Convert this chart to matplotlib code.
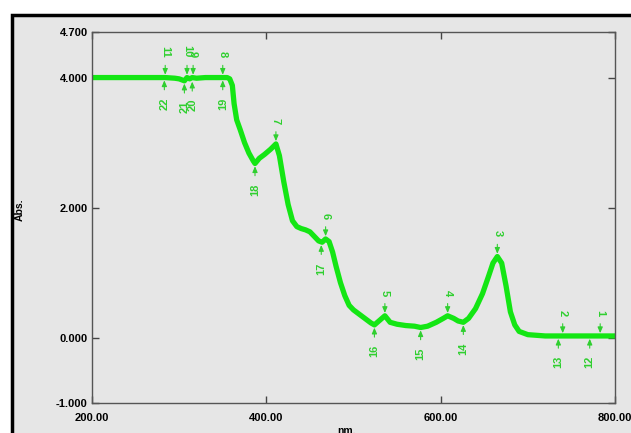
import matplotlib
matplotlib.use("Agg")
import matplotlib.pyplot as plt
from matplotlib.patches import Rectangle

# spectrum
wavelength = [200, 280, 284, 295, 300, 306, 309, 312, 315, 320, 330, 340, 350, 355, 358,
              361, 363, 366, 370, 375, 380, 385, 387, 392, 398, 405, 411, 415, 420, 425,
              430, 435, 440, 445, 450, 455, 460, 464, 468, 472, 476, 480, 485, 490, 495,
              500, 505, 510, 515, 520, 524, 530, 536, 542, 550, 560, 570, 577, 585, 595,
              603, 608, 615, 620, 626, 632, 640, 648, 655, 660, 665, 670, 675, 680, 685,
              690, 700, 720, 740, 760, 800]
absorbance = [4.00, 4.00, 4.00, 3.99, 3.98, 3.95, 4.00, 3.98, 4.00, 3.99, 4.00, 4.00, 4.00, 4.00, 3.98,
              3.88, 3.60, 3.35, 3.20, 3.00, 2.84, 2.72, 2.68, 2.76, 2.82, 2.90, 2.98, 2.80, 2.40, 2.05,
              1.80, 1.71, 1.68, 1.66, 1.63, 1.56, 1.49, 1.47, 1.52, 1.48, 1.32, 1.10, 0.85, 0.65, 0.50,
              0.43, 0.38, 0.33, 0.28, 0.23, 0.20, 0.27, 0.34, 0.24, 0.21, 0.19, 0.18, 0.16, 0.18, 0.24,
              0.30, 0.34, 0.30, 0.26, 0.24, 0.30, 0.45, 0.68, 0.95, 1.15, 1.25, 1.15, 0.80, 0.40, 0.20,
              0.10, 0.05, 0.03, 0.03, 0.03, 0.03]

# picked peaks and valleys
peak_labels = ["1", "2", "3", "4", "5", "6", "7", "8", "9", "10", "11"]
peak_nm = [783, 740, 665, 608, 536, 468, 411, 350, 316, 309, 284]
peak_abs = [0.03, 0.03, 1.25, 0.34, 0.34, 1.52, 2.98, 4.00, 4.00, 4.00, 4.00]

valley_labels = ["12", "13", "14", "15", "16", "17", "18", "19", "20", "21", "22"]
valley_nm = [771, 735, 626, 577, 524, 463, 387, 350, 315, 306, 283]
valley_abs = [0.03, 0.03, 0.24, 0.16, 0.20, 1.47, 2.68, 4.00, 3.98, 3.95, 4.00]

x_ticks = [200, 400, 600, 800]
x_ticklabels = ["200.00", "400.00", "600.00", "800.00"]
y_ticks = [-1.0, 0.0, 2.0, 4.0, 4.7]
y_ticklabels = ["-1.000", "0.000", "2.000", "4.000", "4.700"]

bg = "#e6e6e6"
green = "#14e614"
label_green = "#2fcf2f"
plt.rcParams["font.family"] = ["Liberation Sans", "DejaVu Sans"]

fig = plt.figure(figsize=(6.31, 4.33), dpi=100)
fig.patch.set_facecolor("white")
# grey panel with black border on left/top
fig.patches.append(Rectangle((12 / 631, -0.1), 1.2, 1.1 - 15 / 433, transform=fig.transFigure,
                             facecolor=bg, edgecolor="black", lw=2.5, zorder=-10))

ax = fig.add_axes([92 / 631, 30 / 433, (615 - 92) / 631, (403 - 32) / 433])
ax.set_zorder(1)
ax.set_facecolor(bg)
ax.plot(wavelength, absorbance, color=green, lw=3.8, solid_capstyle="round", solid_joinstyle="round")

ax.set_xlim(200, 800)
ax.set_ylim(-1.0, 4.7)
ax.set_xticks(x_ticks)
ax.set_xticklabels(x_ticklabels)
ax.set_yticks(y_ticks)
ax.set_yticklabels(y_ticklabels)
ax.tick_params(direction="in", length=5, width=1, color="#444444", labelsize=8, top=True, right=True)
ax.tick_params(axis="x", pad=7)
ax.tick_params(axis="y", pad=3)
for t in ax.get_xticklabels() + ax.get_yticklabels():
    t.set_fontweight("bold")
for s in ax.spines.values():
    s.set_color("#555555")
    s.set_linewidth(1.0)

arrow = dict(arrowstyle="-|>,head_length=0.35,head_width=0.15", color=label_green, lw=0.8)
for lab, x, y in zip(peak_labels, peak_nm, peak_abs):
    ax.annotate("", xy=(x, y), xycoords="data", xytext=(0, 15), textcoords="offset pixels",
                arrowprops=arrow)
    ax.annotate(lab, xy=(x, y), xytext=(0, 20), textcoords="offset pixels", rotation=-90,
                ha="center", va="bottom", color=label_green, fontsize=8, fontweight="bold")
for lab, x, y in zip(valley_labels, valley_nm, valley_abs):
    ax.annotate("", xy=(x, y), xycoords="data", xytext=(0, -15), textcoords="offset pixels",
                arrowprops=arrow)
    ax.annotate(lab, xy=(x, y), xytext=(0, -20), textcoords="offset pixels", rotation=90,
                ha="center", va="top", color=label_green, fontsize=8, fontweight="bold")

fig.text(20 / 631, 1 - 210 / 433, "Abs.", rotation=90, ha="center", va="center",
         fontsize=7.5, fontweight="bold")
fig.text(347 / 631, 1 - 431 / 433, "nm.", ha="center", va="center", fontsize=7.5, fontweight="bold")

fig.savefig("out.png", dpi=100, facecolor=fig.get_facecolor())
